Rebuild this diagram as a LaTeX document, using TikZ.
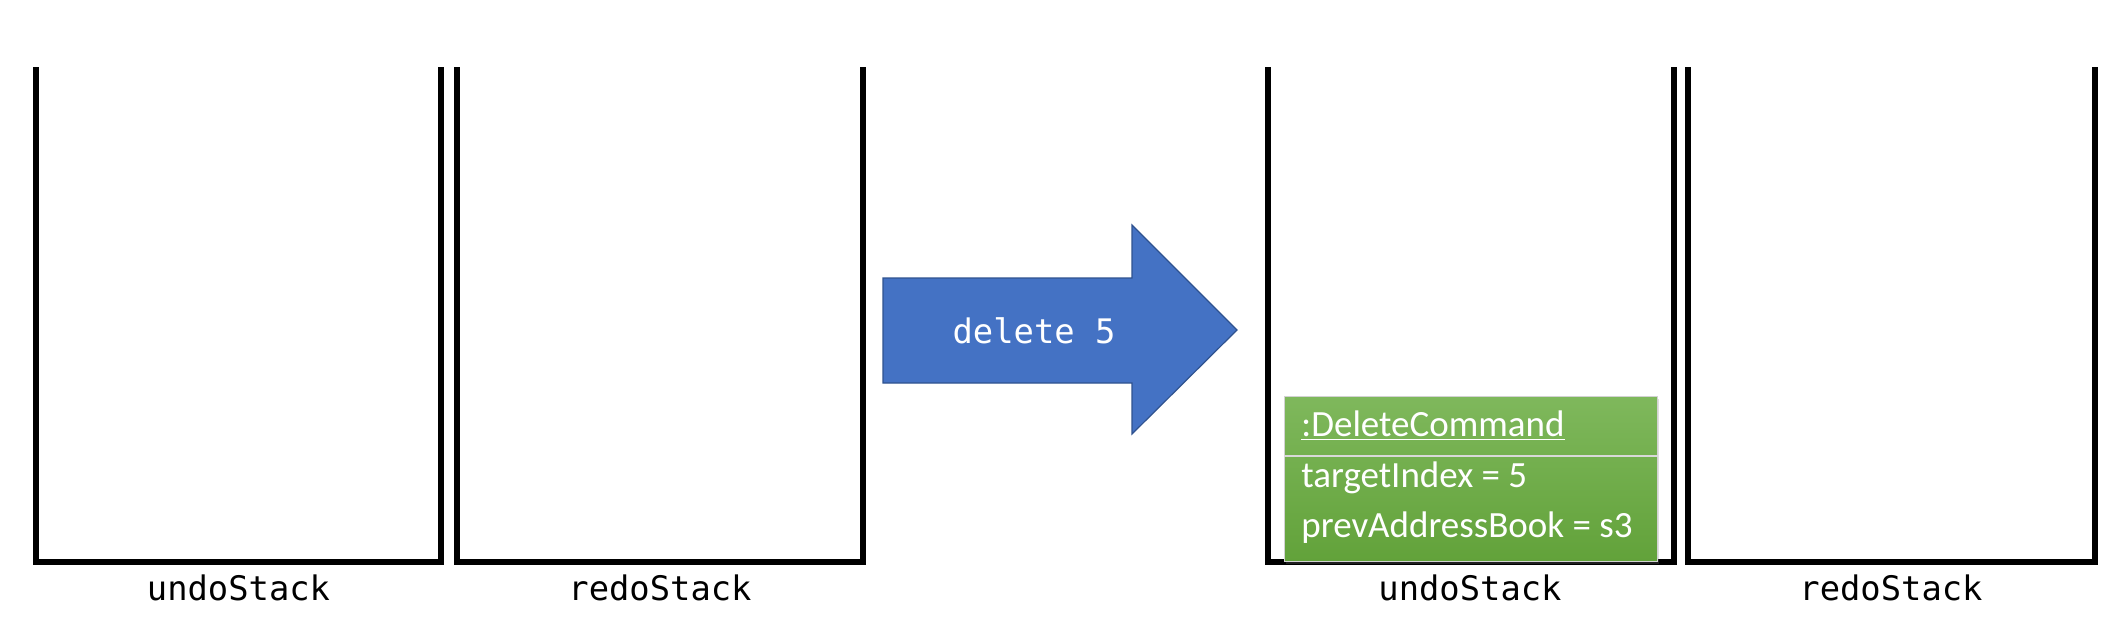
\documentclass[tikz,border=0pt]{standalone}
\usepackage{fontspec}
\setmainfont{Carlito}
\setmonofont{DejaVu Sans Mono}
\usepackage{tikz}
\usetikzlibrary{positioning, shadows}

\definecolor{cmdblue}{HTML}{4472C4}
\definecolor{cmdedge}{HTML}{2F528F}
\definecolor{objtop}{HTML}{7FB85C}
\definecolor{objbottom}{HTML}{62A23A}

\begin{document}
\begin{tikzpicture}[
    x=0.5pt, y=-0.5pt,
    stackwall/.style={draw=black, line width=3pt, line join=miter},
    stacklabel/.style={font=\fontsize{16.9}{20}\selectfont\ttfamily, anchor=base, inner sep=0pt},
    cmdarrow/.style={fill=cmdblue, draw=cmdedge, line width=0.6pt, line join=miter},
    cmdtext/.style={font=\fontsize{16.9}{20}\selectfont\ttfamily, text=white, anchor=base, inner sep=0pt},
    objbox/.style={rectangle, draw=gray!35, line width=0.5pt, top color=objtop, bottom color=objbottom,
        minimum width=186.5pt, minimum height=82.5pt, inner sep=0pt,
        drop shadow={shadow xshift=1pt, shadow yshift=-1.5pt, opacity=0.25}},
    divider/.style={draw=gray!30, line width=0.8pt},
    objtext/.style={font=\fontsize{18.5}{22}\selectfont, text=white, anchor=base west, inner sep=0pt}
]

    % Canvas
    \path[use as bounding box, fill=white] (0,0) rectangle (2121,634);

    % === Before: undoStack and redoStack ===
    \draw[stackwall] (36,67) |- (441,562) -- (441,67);
    \node[stacklabel] (undoBefore) at (238.5,600) {undoStack};

    \draw[stackwall] (457,67) |- (862.5,562) -- (862.5,67);
    \node[stacklabel] (redoBefore) at (660,600) {redoStack};

    % === Command arrow ===
    \draw[cmdarrow] (883,278) -- (1132,278) -- (1132,225) -- (1237,330)
        -- (1132,434) -- (1132,383) -- (883,383) -- cycle;
    \node[cmdtext] (cmd) at (1034,343) {delete 5};

    % === After: undoStack and redoStack ===
    \draw[stackwall] (1268,67) |- (1673.5,562) -- (1673.5,67);
    \node[stacklabel] (undoAfter) at (1470,600) {undoStack};

    \draw[stackwall] (1687.5,67) |- (2095,562) -- (2095,67);
    \node[stacklabel] (redoAfter) at (1891,600) {redoStack};

    % === DeleteCommand object ===
    \node[objbox] (delcmd) at (1470.5,478.5) {};
    \coordinate (divy) at (0,456);
    \draw[divider] (delcmd.west |- divy) -- (delcmd.east |- divy);
    \node[objtext] (clsname) at (1301,436) {\underline{:DeleteCommand}};
    \node[objtext] (attrIndex) at (1301,487) {targetIndex = 5};
    \node[objtext] (attrBook) at (1301,537) {prevAddressBook = s3};

\end{tikzpicture}
\end{document}
